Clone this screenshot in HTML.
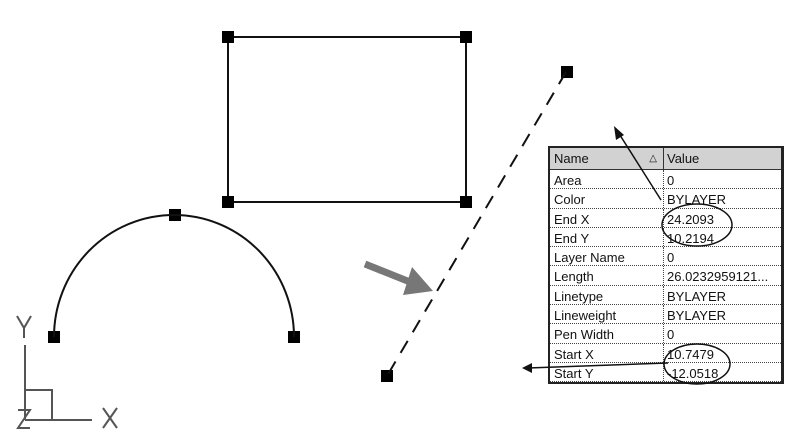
<!DOCTYPE html>
<html><head><style>
body{margin:0;width:800px;height:440px;background:#fff;overflow:hidden;position:relative;font-family:"Liberation Sans",Arial,sans-serif}
#tbl{position:absolute;left:548px;top:146px;width:231px;border:2px solid #222;border-right:3px solid #222;background:#fff}
.r{height:19.3px;border-bottom:1px dotted #444;display:flex;font-size:13px;line-height:21px;color:#111;box-sizing:border-box}
.r div:first-child{width:114px;padding-left:4px;border-right:1px dotted #444;box-sizing:border-box}
.r div:last-child{padding-left:3px;white-space:nowrap}
.h{height:22px;background:#d2d2d2;border-bottom:1px solid #333;line-height:22px}
.h div:first-child{border-right:1px solid #333;position:relative}
</style></head><body>
<svg width="800" height="440" style="position:absolute;left:0;top:0">
<rect x="228" y="37" width="238" height="165" fill="none" stroke="#111" stroke-width="2"/>
<g fill="#000">
<rect x="222" y="31" width="12" height="12"/><rect x="460" y="31" width="12" height="12"/>
<rect x="222" y="196" width="12" height="12"/><rect x="460" y="196" width="12" height="12"/>
<rect x="561" y="66" width="12" height="12"/><rect x="381" y="370" width="12" height="12"/>
<rect x="169" y="209" width="12" height="12"/><rect x="48" y="331" width="12" height="12"/><rect x="288" y="331" width="12" height="12"/>
</g>
<path d="M54 337 A120 122 0 0 1 294 337" fill="none" stroke="#111" stroke-width="2"/>
<line x1="566" y1="72" x2="387" y2="376" stroke="#111" stroke-width="2" stroke-dasharray="14,10"/>
<line x1="365" y1="264" x2="410" y2="282" stroke="#777" stroke-width="7"/>
<polygon points="412,267 403,295 433,291" fill="#777"/>
<g stroke="#555" stroke-width="2" fill="none">
<line x1="25" y1="345" x2="25" y2="420"/><line x1="25" y1="420" x2="92" y2="420"/>
<polyline points="25,390 52,390 52,420"/>
<polyline points="17,316 24,328 31,316"/><line x1="24" y1="328" x2="24" y2="338"/>
<polyline points="18,410 30,410 18,428 30,428"/>
<line x1="103" y1="408" x2="117" y2="428"/><line x1="117" y1="408" x2="103" y2="428"/>
</g>
</svg>
<div id="tbl">
<div class="r h"><div>Name<span style="position:absolute;right:6px;font-size:10px">△</span></div><div>Value</div></div>
<div class="r"><div>Area</div><div>0</div></div>
<div class="r"><div>Color</div><div>BYLAYER</div></div>
<div class="r"><div>End X</div><div>24.2093</div></div>
<div class="r"><div>End Y</div><div>10.2194</div></div>
<div class="r"><div>Layer Name</div><div>0</div></div>
<div class="r"><div>Length</div><div>26.0232959121...</div></div>
<div class="r"><div>Linetype</div><div>BYLAYER</div></div>
<div class="r"><div>Lineweight</div><div>BYLAYER</div></div>
<div class="r"><div>Pen Width</div><div>0</div></div>
<div class="r"><div>Start X</div><div>10.7479</div></div>
<div class="r"><div>Start Y</div><div>-12.0518</div></div>
</div>
<svg width="800" height="440" style="position:absolute;left:0;top:0">
<line x1="661" y1="200" x2="618" y2="132" stroke="#111" stroke-width="1.5"/>
<polygon points="614,126 616,140 624,135" fill="#111"/>
<line x1="668" y1="363" x2="528" y2="368" stroke="#111" stroke-width="1.5"/>
<polygon points="522,368 532,363 532,373" fill="#111"/>
<ellipse cx="697" cy="225" rx="35" ry="21" fill="none" stroke="#111" stroke-width="1.5"/>
<ellipse cx="697" cy="364" rx="33" ry="20" fill="none" stroke="#111" stroke-width="1.5"/>
</svg>
</body></html>
